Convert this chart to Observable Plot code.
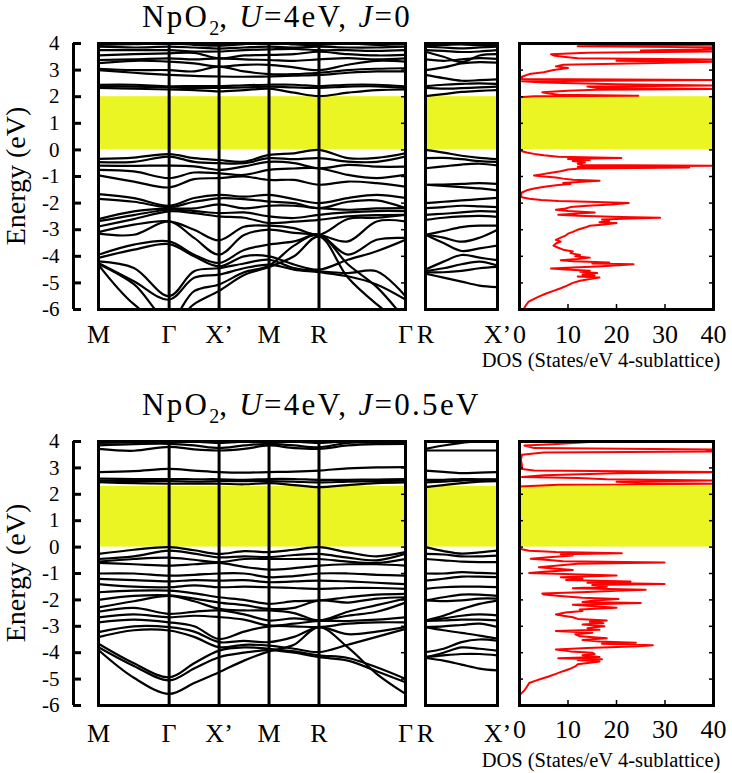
<!DOCTYPE html>
<html><head><meta charset="utf-8">
<script src="https://cdn.jsdelivr.net/npm/d3@7"></script>
<script src="https://cdn.jsdelivr.net/npm/@observablehq/plot@0.6"></script>
<style>
body{margin:0;background:#fff;}
#chart{position:relative;width:732px;height:773px;overflow:hidden;font-family:"Liberation Serif","Times New Roman",serif;color:#000;background:#fff;}
.txt{position:absolute;white-space:nowrap;}
.title{font-size:31px;line-height:1.11;letter-spacing:2.3px;}
.title sub{font-size:20px;line-height:0;vertical-align:-8px;letter-spacing:0;}
.ylab{font-size:28px;line-height:28px;transform:translate(-50%,-50%) rotate(-90deg);}
.doslab{font-size:20.5px;line-height:1.11;transform:translateX(-50%);}
</style></head>
<body><div id="chart"></div>
<script>
// ---- k-path (high-symmetry points and sample points) ----
const kPath = [0, 0.354, 0.707, 0.957, 1.207, 1.457, 1.707, 1.957, 2.207, 2.496, 2.784, 3.073];
const kTicksMain = [0, 0.707, 1.207, 1.707, 2.207, 3.073];
const kLabelsMain = ["M", "Γ", "X’", "M", "R", "Γ"];
const kPathSide = [0, 0.177, 0.354, 0.530, 0.707];
const kTicksSide = [0, 0.707];
const kLabelsSide = ["R", "X’"];
const energyTicks = [-6, -5, -4, -3, -2, -1, 0, 1, 2, 3, 4];
const dosTicks = [0, 10, 20, 30, 40];
const gapJ0 = [0, 2.0];
const gapJ05 = [0, 2.3];

// ---- bands, U=4eV, J=0 (energies at kPath) ----
const bandsJ0 = [
  [2.33, 2.30, 2.27, 2.25, 2.20, 2.25, 2.30, 2.15, 2.02, 2.15, 2.25, 2.27],
  [2.40, 2.38, 2.35, 2.33, 2.33, 2.35, 2.38, 2.35, 2.33, 2.38, 2.39, 2.33],
  [2.45, 2.45, 2.39, 2.40, 2.40, 2.43, 2.45, 2.45, 2.40, 2.45, 2.45, 2.39],
  [3.00, 2.90, 2.82, 2.78, 2.76, 2.75, 2.76, 2.79, 2.82, 2.90, 2.95, 2.95],
  [3.05, 3.00, 3.00, 2.95, 3.13, 2.95, 2.85, 2.85, 2.90, 3.00, 3.05, 3.07],
  [3.26, 3.35, 3.32, 3.25, 3.13, 3.20, 3.20, 3.10, 3.00, 3.20, 3.35, 3.32],
  [3.38, 3.40, 3.44, 3.40, 3.44, 3.40, 3.38, 3.35, 3.40, 3.45, 3.40, 3.44],
  [3.55, 3.60, 3.63, 3.65, 3.44, 3.55, 3.57, 3.60, 3.69, 3.60, 3.55, 3.57],
  [3.75, 3.75, 3.75, 3.70, 3.70, 3.75, 3.78, 3.80, 3.75, 3.75, 3.72, 3.75],
  [3.88, 3.85, 3.88, 3.85, 3.81, 3.85, 3.88, 3.85, 3.88, 3.85, 3.85, 3.88],
  [3.95, 3.98, 4.00, 3.95, 3.92, 3.98, 4.05, 3.97, 3.95, 4.00, 3.95, 3.98],
  [-0.34, -0.29, -0.16, -0.31, -0.38, -0.44, -0.19, -0.13, 0.00, -0.31, -0.30, -0.13],
  [-0.46, -0.45, -0.25, -0.45, -0.50, -0.50, -0.31, -0.35, -0.31, -0.44, -0.45, -0.25],
  [-0.59, -0.60, -0.59, -0.62, -0.75, -0.62, -0.45, -0.50, -0.69, -0.56, -0.63, -0.63],
  [-0.75, -0.81, -1.06, -0.85, -0.88, -0.94, -0.75, -0.70, -0.69, -0.94, -1.06, -0.94],
  [-0.96, -1.19, -1.41, -1.10, -1.06, -1.00, -1.13, -1.13, -1.31, -1.19, -1.25, -1.38],
  [-1.66, -1.81, -2.10, -1.81, -1.69, -1.76, -1.69, -1.85, -2.00, -1.81, -1.69, -1.81],
  [-1.84, -1.95, -2.15, -1.95, -1.82, -1.85, -1.94, -2.00, -2.19, -1.95, -1.90, -2.19],
  [-2.60, -2.31, -2.20, -2.20, -2.05, -2.20, -2.10, -2.10, -2.19, -2.25, -2.20, -2.19],
  [-2.68, -2.45, -2.25, -2.30, -2.38, -2.35, -2.50, -2.56, -2.44, -2.35, -2.30, -2.30],
  [-2.88, -2.60, -2.31, -2.38, -2.50, -2.55, -2.75, -2.70, -2.63, -2.50, -2.45, -2.44],
  [-3.09, -2.81, -2.69, -3.00, -3.40, -2.89, -2.85, -2.94, -3.19, -2.60, -2.55, -2.44],
  [-3.15, -3.19, -2.69, -3.31, -3.94, -3.20, -3.00, -3.12, -3.19, -3.44, -2.69, -2.69],
  [-3.94, -3.56, -3.44, -3.94, -4.25, -3.76, -3.56, -3.44, -3.19, -3.94, -3.38, -3.31],
  [-4.06, -3.75, -3.54, -4.00, -4.38, -4.00, -4.00, -4.31, -4.50, -4.13, -3.81, -3.38],
  [-4.19, -4.44, -5.50, -4.56, -4.45, -4.27, -4.13, -4.44, -4.56, -4.63, -4.56, -5.50],
  [-4.25, -4.94, -5.63, -4.81, -4.69, -4.45, -4.31, -4.50, -4.60, -4.75, -5.06, -5.63],
  [-4.29, -5.05, -6.40, -5.31, -5.06, -4.60, -4.35, -3.60, -3.19, -4.30, -5.15, -6.40],
  [-4.32, -5.80, -6.60, -5.80, -5.30, -4.70, -4.40, -4.00, -3.25, -4.80, -5.80, -6.60]
];

// ---- bands, U=4eV, J=0 (R -> X') ----
const sideBandsJ0 = [
  [2.02, 2.10, 2.18, 2.22, 2.25],
  [2.33, 2.30, 2.32, 2.35, 2.38],
  [2.40, 2.45, 2.48, 2.50, 2.48],
  [2.82, 2.70, 2.60, 2.62, 2.65],
  [3.00, 3.10, 3.25, 3.30, 3.28],
  [3.40, 3.35, 3.40, 3.45, 3.42],
  [3.69, 3.50, 3.30, 3.55, 3.60],
  [3.75, 3.72, 3.68, 3.70, 3.75],
  [3.88, 3.85, 3.82, 3.85, 3.88],
  [3.95, 3.95, 3.97, 3.93, 3.92],
  [0.00, -0.10, -0.22, -0.30, -0.35],
  [-0.31, -0.30, -0.35, -0.42, -0.45],
  [-0.69, -0.62, -0.55, -0.52, -0.58],
  [-1.31, -1.30, -1.28, -1.25, -1.28],
  [-1.31, -1.35, -1.40, -1.45, -1.52],
  [-2.00, -1.95, -1.90, -1.85, -1.80],
  [-2.19, -2.15, -2.10, -2.12, -2.15],
  [-2.44, -2.40, -2.35, -2.30, -2.32],
  [-2.63, -2.55, -2.50, -2.48, -2.52],
  [-3.19, -3.05, -2.90, -2.85, -2.85],
  [-3.19, -3.30, -3.45, -3.30, -3.00],
  [-3.19, -3.50, -3.80, -3.70, -3.60],
  [-4.50, -4.20, -3.95, -4.05, -4.15],
  [-4.56, -4.45, -4.30, -4.20, -4.35],
  [-4.60, -4.60, -4.55, -4.45, -4.40],
  [-4.65, -4.80, -4.95, -5.10, -5.16]
];

// ---- DOS, U=4eV, J=0 : [energy, states/eV] ----
const dosJ0 = [
  [-6.0,0.8],[-5.85,1.3],[-5.7,1.9],[-5.6,3.0],[-5.5,4.2],[-5.4,5.5],[-5.3,7.0],[-5.2,8.5],[-5.1,9.8],[-5.0,11.0],
  [-4.92,12.5],[-4.85,14.5],[-4.8,16.5],[-4.76,12.0],[-4.72,15.5],[-4.68,13.0],[-4.63,16.0],[-4.58,12.5],[-4.54,14.5],[-4.5,9.5],
  [-4.46,6.5],[-4.42,11.0],[-4.38,16.0],[-4.34,20.5],[-4.3,23.5],[-4.27,15.0],[-4.23,18.5],[-4.19,11.0],[-4.15,8.5],[-4.1,12.0],
  [-4.05,14.5],[-4.0,11.5],[-3.95,12.5],[-3.88,10.5],[-3.82,11.0],[-3.75,9.0],[-3.68,8.0],[-3.6,7.0],[-3.52,7.5],[-3.45,8.5],
  [-3.38,7.5],[-3.3,8.5],[-3.22,9.5],[-3.15,10.0],[-3.08,11.0],[-3.0,12.0],[-2.92,13.5],[-2.85,14.5],[-2.8,17.5],[-2.75,20.0],
  [-2.72,16.5],[-2.67,18.5],[-2.62,17.0],[-2.58,23.0],[-2.55,29.0],[-2.52,21.0],[-2.48,12.0],[-2.44,8.0],[-2.4,11.5],[-2.35,15.5],
  [-2.3,10.0],[-2.25,7.5],[-2.2,9.5],[-2.15,10.5],[-2.1,14.0],[-2.05,19.0],[-2.0,22.5],[-1.96,16.0],[-1.92,8.0],[-1.88,4.5],
  [-1.84,2.0],[-1.78,0.5],[-1.7,0.3],[-1.6,0.5],[-1.52,1.5],[-1.45,3.0],[-1.38,5.5],[-1.32,8.0],[-1.28,10.5],[-1.24,9.0],
  [-1.2,13.0],[-1.16,16.5],[-1.12,11.0],[-1.08,9.0],[-1.04,7.5],[-1.0,5.0],[-0.96,3.0],[-0.92,4.5],[-0.86,6.5],[-0.8,8.5],
  [-0.74,10.0],[-0.7,12.5],[-0.66,35.0],[-0.63,12.0],[-0.6,40.0],[-0.57,13.0],[-0.52,12.0],[-0.47,13.5],[-0.42,11.0],[-0.38,14.5],
  [-0.34,10.0],[-0.3,21.0],[-0.26,8.0],[-0.2,5.0],[-0.15,3.0],[-0.1,1.5],[-0.05,0.5],[0.0,0.0],
  [1.98,0.0],[2.02,3.0],[2.04,24.5],[2.07,8.0],[2.12,6.0],[2.17,4.7],[2.22,10.0],[2.26,15.8],[2.29,40.0],[2.33,16.0],
  [2.38,14.0],[2.42,40.0],[2.47,20.0],[2.53,5.0],[2.58,0.5],[2.63,40.0],[2.67,0.5],[2.75,0.5],[2.85,2.0],[2.92,5.0],
  [3.0,7.0],[3.08,10.0],[3.14,7.5],[3.2,9.0],[3.27,28.0],[3.31,40.0],[3.35,20.0],[3.4,40.0],[3.45,12.0],[3.5,9.0],
  [3.55,7.0],[3.6,6.5],[3.65,14.0],[3.7,40.0],[3.74,25.0],[3.78,40.0],[3.82,38.0],[3.86,40.0],[3.9,12.0],[3.95,40.0],[4.0,40.0]
];

// ---- bands, U=4eV, J=0.5eV ----
const bandsJ05 = [
  [2.46, 2.42, 2.40, 2.40, 2.40, 2.38, 2.42, 2.35, 2.27, 2.35, 2.42, 2.45],
  [2.52, 2.50, 2.50, 2.48, 2.50, 2.50, 2.50, 2.48, 2.45, 2.48, 2.50, 2.52],
  [2.59, 2.58, 2.58, 2.57, 2.57, 2.55, 2.58, 2.58, 2.55, 2.55, 2.56, 2.58],
  [2.84, 2.88, 2.96, 2.90, 2.84, 2.82, 2.84, 2.86, 2.90, 2.98, 3.02, 3.03],
  [3.72, 3.65, 3.80, 3.70, 3.66, 3.72, 3.85, 3.75, 3.72, 3.85, 3.90, 3.91],
  [3.85, 3.90, 3.91, 3.85, 3.75, 3.85, 3.91, 3.85, 3.78, 3.95, 3.95, 3.95],
  [3.95, 3.98, 4.05, 4.00, 3.95, 4.00, 4.05, 4.00, 3.95, 4.02, 4.05, 4.05],
  [-0.26, -0.10, 0.00, -0.12, -0.26, -0.15, -0.19, -0.10, 0.00, -0.20, -0.35, -0.19],
  [-0.45, -0.35, -0.13, -0.25, -0.39, -0.35, -0.38, -0.30, -0.26, -0.40, -0.50, -0.25],
  [-0.55, -0.45, -0.40, -0.48, -0.57, -0.45, -0.45, -0.45, -0.45, -0.55, -0.60, -0.45],
  [-0.60, -0.65, -0.70, -0.65, -0.60, -0.75, -0.85, -0.80, -0.70, -0.65, -0.65, -0.70],
  [-1.00, -1.00, -1.08, -1.05, -1.00, -1.00, -1.14, -1.10, -1.00, -1.00, -1.05, -1.08],
  [-1.20, -1.25, -1.30, -1.25, -1.27, -1.25, -1.33, -1.30, -1.27, -1.30, -1.35, -1.40],
  [-1.40, -1.50, -1.52, -1.45, -1.52, -1.50, -1.52, -1.55, -1.58, -1.55, -1.55, -1.58],
  [-1.71, -1.65, -1.65, -1.75, -1.90, -2.00, -2.15, -2.05, -2.02, -1.90, -1.80, -1.77],
  [-2.00, -1.85, -1.83, -1.95, -2.10, -2.20, -2.34, -2.30, -2.02, -2.10, -1.95, -1.90],
  [-2.28, -2.05, -1.85, -2.05, -2.34, -2.40, -2.40, -2.50, -2.78, -2.45, -2.20, -1.95],
  [-2.45, -2.30, -2.53, -2.45, -2.40, -2.55, -2.78, -2.70, -2.78, -2.60, -2.45, -2.10],
  [-2.66, -2.55, -2.66, -2.60, -2.65, -2.75, -2.97, -2.90, -2.80, -2.80, -2.75, -2.66],
  [-2.85, -2.75, -2.85, -3.00, -3.48, -3.20, -3.00, -3.00, -3.03, -2.90, -2.85, -2.85],
  [-3.22, -3.00, -3.03, -3.20, -3.60, -3.55, -3.60, -3.40, -3.03, -3.30, -3.20, -3.03],
  [-3.41, -3.15, -3.16, -3.40, -3.79, -3.70, -3.73, -3.85, -3.98, -3.70, -3.40, -3.10],
  [-3.66, -4.40, -4.93, -4.40, -3.92, -3.80, -3.85, -3.95, -4.10, -4.20, -4.55, -4.99],
  [-3.79, -4.50, -5.05, -4.60, -4.17, -4.00, -3.90, -4.00, -4.17, -4.30, -4.70, -5.12],
  [-3.90, -4.95, -5.56, -5.15, -4.74, -4.30, -3.95, -3.70, -3.03, -3.80, -4.80, -5.56]
];

// ---- bands, U=4eV, J=0.5eV (R -> X') ----
const sideBandsJ05 = [
  [2.27, 2.35, 2.42, 2.48, 2.50],
  [2.45, 2.48, 2.52, 2.55, 2.55],
  [2.55, 2.55, 2.58, 2.57, 2.57],
  [2.90, 2.85, 2.80, 2.82, 2.84],
  [3.66, 3.66, 3.66, 3.66, 3.66],
  [3.72, 3.85, 3.95, 4.02, 4.08],
  [0.00, -0.15, -0.25, -0.20, -0.13],
  [-0.26, -0.28, -0.35, -0.35, -0.32],
  [-0.45, -0.50, -0.55, -0.57, -0.57],
  [-1.00, -1.00, -0.95, -0.98, -1.00],
  [-1.27, -1.20, -1.12, -1.12, -1.14],
  [-1.58, -1.52, -1.50, -1.50, -1.52],
  [-2.02, -1.90, -1.80, -1.80, -1.85],
  [-2.02, -2.05, -2.02, -1.95, -1.95],
  [-2.78, -2.60, -2.35, -2.15, -2.02],
  [-2.78, -2.70, -2.60, -2.55, -2.59],
  [-2.80, -2.78, -2.75, -2.75, -2.78],
  [-3.03, -3.00, -2.95, -2.90, -3.03],
  [-3.03, -3.15, -3.25, -3.35, -3.47],
  [-3.98, -3.85, -3.60, -3.50, -3.55],
  [-4.17, -4.00, -3.80, -3.85, -3.92],
  [-4.17, -4.10, -4.05, -4.05, -4.10],
  [-4.20, -4.30, -4.45, -4.60, -4.67]
];

// ---- DOS, U=4eV, J=0.5eV ----
const dosJ05 = [
  [-5.65,0.0],[-5.55,0.3],[-5.45,0.9],[-5.3,1.5],[-5.15,2.0],[-5.05,3.5],[-4.98,4.7],[-4.9,6.0],[-4.8,7.5],[-4.7,9.0],
  [-4.62,10.3],[-4.52,11.5],[-4.44,12.0],[-4.38,14.5],[-4.33,16.5],[-4.28,12.0],[-4.25,17.0],[-4.21,8.0],[-4.16,16.5],[-4.1,13.0],
  [-4.05,15.5],[-4.0,15.0],[-3.95,10.5],[-3.88,7.5],[-3.82,14.0],[-3.76,24.5],[-3.72,27.5],[-3.66,17.0],[-3.62,24.0],[-3.58,16.5],
  [-3.52,13.0],[-3.45,18.0],[-3.38,12.5],[-3.3,11.5],[-3.24,15.0],[-3.18,7.5],[-3.13,16.5],[-3.07,14.0],[-3.0,17.5],[-2.93,13.0],
  [-2.88,17.3],[-2.83,14.5],[-2.78,18.0],[-2.72,12.0],[-2.66,11.0],[-2.6,9.0],[-2.55,7.5],[-2.48,9.5],[-2.42,13.0],[-2.36,12.4],
  [-2.3,20.0],[-2.24,15.5],[-2.18,11.0],[-2.12,25.0],[-2.08,13.0],[-2.02,15.5],[-1.97,20.4],[-1.92,13.0],[-1.86,9.0],[-1.8,5.0],
  [-1.76,4.7],[-1.7,14.0],[-1.65,20.0],[-1.62,26.0],[-1.56,11.0],[-1.5,18.0],[-1.44,15.0],[-1.4,29.9],[-1.35,14.0],[-1.3,22.9],
  [-1.25,9.6],[-1.2,13.0],[-1.14,8.5],[-1.08,20.0],[-1.03,11.0],[-0.98,2.0],[-0.93,5.0],[-0.87,11.0],[-0.81,7.0],[-0.76,4.0],
  [-0.7,8.0],[-0.63,12.0],[-0.58,29.9],[-0.54,9.0],[-0.49,6.0],[-0.44,2.3],[-0.38,6.0],[-0.32,11.0],[-0.27,8.5],[-0.23,21.1],
  [-0.19,7.5],[-0.14,2.0],[-0.08,0.5],[0.0,0.0],
  [2.3,0.0],[2.36,8.0],[2.4,40.0],[2.44,24.0],[2.48,20.0],[2.52,40.0],[2.57,18.0],[2.62,12.0],[2.66,0.5],[2.72,5.0],
  [2.8,20.0],[2.84,40.0],[2.9,3.0],[2.96,0.5],[3.1,0.5],[3.3,0.3],[3.5,0.5],[3.58,5.0],[3.62,40.0],[3.66,38.5],
  [3.7,40.0],[3.75,3.0],[3.85,1.0],[3.9,6.8],[3.95,12.0],[4.0,15.9]
];

// ---------------- drawing ----------------
const FONT = "'Liberation Serif', 'Times New Roman', serif";
const YELLOW = "#ecf524";
const chart = document.getElementById("chart");
const eDomain = [energyTicks[0], energyTicks[energyTicks.length - 1]];
const baseStyle = {background: "transparent", overflow: "visible", fontFamily: FONT, color: "black"};

function toRows(bands, ks) {
  return bands.flatMap((b, j) => b.map((e, i) => ({k: ks[i], e, band: j})));
}
function place(node, left, top) {
  node.style.position = "absolute";
  node.style.left = left + "px";
  node.style.top = top + "px";
  chart.appendChild(node);
}
function addText(cls, html, left, top) {
  const d = document.createElement("div");
  d.className = "txt " + cls;
  d.innerHTML = html;
  d.style.left = left + "px";
  d.style.top = top + "px";
  chart.appendChild(d);
}

function bandPanel(bands, gap, mB, pad) {
  const W = 420, H = 345, mL = 98, mR = 15, mT = 43;
  const fw = W - mL - mR;
  const kEnd = kPath[kPath.length - 1];
  const lab = new Map(kTicksMain.map((k, i) => [k, kLabelsMain[i]]));
  return Plot.plot({
    width: W, height: H, marginLeft: mL, marginRight: mR, marginTop: mT, marginBottom: mB,
    x: {domain: [kPath[0], kEnd], label: null},
    y: {domain: eDomain, label: null},
    style: baseStyle,
    marks: [
      Plot.rect([gap], {x1: () => kPath[0], x2: () => kEnd, y1: d => d[0], y2: d => d[1], fill: YELLOW}),
      Plot.line(toRows(bands, kPath), {x: "k", y: "e", z: "band", curve: "catmull-rom", stroke: "black", strokeWidth: 2.2, clip: true}),
      Plot.ruleX(kTicksMain.slice(1, -1), {stroke: "black", strokeWidth: 3}),
      Plot.tickY(energyTicks, {insetLeft: fw - 4, stroke: "black", strokeWidth: 1.5}),
      Plot.frame({stroke: "black", strokeWidth: 3}),
      Plot.ruleX([kPath[0]], {dx: -25, stroke: "black", strokeWidth: 3}),
      Plot.tickY(energyTicks, {dx: -25, insetRight: fw - 8, stroke: "black", strokeWidth: 3}),
      Plot.axisY(energyTicks, {anchor: "left", dx: -25, tickSize: 0, tickPadding: 14, fontSize: 21, tickFormat: d => String(d), label: null}),
      Plot.axisX(kTicksMain, {anchor: "bottom", tickSize: 0, tickPadding: pad, fontSize: 26, tickFormat: d => lab.get(d), label: null})
    ]
  });
}

function sidePanel(bands, gap, mB, pad) {
  const W = 95, H = 345, mL = 10, mR = 13, mT = 43;
  const kEnd = kPathSide[kPathSide.length - 1];
  const lab = new Map(kTicksSide.map((k, i) => [k, kLabelsSide[i]]));
  return Plot.plot({
    width: W, height: H, marginLeft: mL, marginRight: mR, marginTop: mT, marginBottom: mB,
    x: {domain: [kPathSide[0], kEnd], label: null},
    y: {domain: eDomain, label: null, axis: null},
    style: baseStyle,
    marks: [
      Plot.rect([gap], {x1: () => kPathSide[0], x2: () => kEnd, y1: d => d[0], y2: d => d[1], fill: YELLOW}),
      Plot.line(toRows(bands, kPathSide), {x: "k", y: "e", z: "band", curve: "catmull-rom", stroke: "black", strokeWidth: 2.2, clip: true}),
      Plot.frame({stroke: "black", strokeWidth: 3}),
      Plot.axisX(kTicksSide, {anchor: "bottom", tickSize: 0, tickPadding: pad, fontSize: 26, tickFormat: d => lab.get(d), label: null})
    ]
  });
}

function dosPanel(pairs, gap, mB, pad) {
  const W = 232, H = 345, mL = 19, mR = 19, mT = 43;
  const fw = W - mL - mR, fh = H - mT - mB;
  const xEnd = dosTicks[dosTicks.length - 1];
  return Plot.plot({
    width: W, height: H, marginLeft: mL, marginRight: mR, marginTop: mT, marginBottom: mB,
    x: {domain: [dosTicks[0], xEnd], label: null},
    y: {domain: eDomain, label: null, axis: null},
    style: baseStyle,
    marks: [
      Plot.rect([gap], {x1: () => dosTicks[0], x2: () => xEnd, y1: d => d[0], y2: d => d[1], fill: YELLOW}),
      Plot.line(pairs, {x: d => d[1], y: d => d[0], stroke: "#ff0000", strokeWidth: 2, clip: true}),
      Plot.tickX(dosTicks.slice(1, -1), {insetTop: fh - 5, stroke: "black", strokeWidth: 1.5}),
      Plot.tickY(energyTicks, {insetRight: fw - 4, stroke: "black", strokeWidth: 1.5}),
      Plot.tickY(energyTicks, {insetLeft: fw - 4, stroke: "black", strokeWidth: 1.5}),
      Plot.frame({stroke: "black", strokeWidth: 3}),
      Plot.axisX(dosTicks, {anchor: "bottom", tickSize: 0, tickPadding: pad, fontSize: 26, label: null})
    ]
  });
}

// Row 1: U=4eV, J=0
place(bandPanel(bandsJ0, gapJ0, 36, 15), 0, 0);
place(sidePanel(sideBandsJ0, gapJ0, 36, 15), 415, 0);
place(dosPanel(dosJ0, gapJ0, 36, 15), 500, 0);
// Row 2: U=4eV, J=0.5eV
place(bandPanel(bandsJ05, gapJ05, 38, 18), 0, 398);
place(sidePanel(sideBandsJ05, gapJ05, 38, 18), 415, 398);
place(dosPanel(dosJ05, gapJ05, 38, 14), 500, 398);

// Titles and axis titles
addText("title", "NpO<sub>2</sub>, <i>U</i>=4eV, <i>J</i>=0", 142, 0);
addText("title", "NpO<sub>2</sub>, <i>U</i>=4eV, <i>J</i>=0.5eV", 142, 388);
addText("ylab", "Energy (eV)", 16, 176);
addText("ylab", "Energy (eV)", 16, 573);
addText("doslab", "DOS (States/eV 4-sublattice)", 601, 349);
addText("doslab", "DOS (States/eV 4-sublattice)", 601, 749);
</script>
</body></html>
